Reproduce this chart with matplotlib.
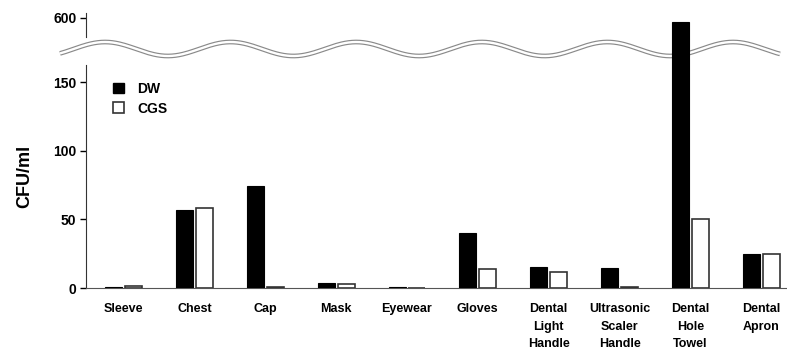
import matplotlib.pyplot as plt
import numpy as np
from matplotlib.lines import Line2D
from matplotlib.patches import Patch

categories = ['Sleeve', 'Chest', 'Cap', 'Mask', 'Eyewear', 'Gloves',
              'Dental\nLight\nHandle', 'Ultrasonic\nScaler\nHandle',
              'Dental\nHole\nTowel', 'Dental\nApron']
dw = [1, 57, 74, 3.5, 0.5, 40, 15.5, 14.5, 596, 25]
cgs = [1.5, 58, 0.4, 3, 0, 13.5, 11.5, 1, 50, 24.5]

plt.rcParams['font.family'] = ['Liberation Sans', 'DejaVu Sans']
plt.rcParams['font.weight'] = 'bold'

W, H = 787, 354
fig = plt.figure(figsize=(W / 100, H / 100), dpi=100)

left, right = 86 / W, 786 / W
ax = fig.add_axes([left, (H - 288) / H, right - left, (288 - 65) / H])
ax_top = fig.add_axes([left, (H - 65) / H, right - left, (65 - 13) / H])
for a in (ax, ax_top):
    a.patch.set_visible(False)

x = np.arange(len(categories))
bw = 0.24
off = 0.14
for a in (ax, ax_top):
    a.bar(x - off, dw, bw, color='black', edgecolor='black', linewidth=0.8, zorder=3)
    a.bar(x + off, cgs, bw, color='white', edgecolor='#333333', linewidth=1.2, zorder=3)
    a.set_xlim(-0.53, 9.35)

ax.set_ylim(0, 162.5)
ax.set_yticks([0, 50, 100, 150])
ax.set_xticks(x)
ax.set_xticklabels(categories, fontsize=9, fontweight='bold', linespacing=1.6, va='top')
ax.tick_params(axis='x', length=0, pad=11)
ax.tick_params(axis='y', length=4, width=1, labelsize=10, pad=3)
ax.spines['top'].set_visible(False)
ax.spines['right'].set_visible(False)
ax.spines['left'].set_color('#333333')
ax.spines['bottom'].set_color('#555555')
ax.set_ylabel('CFU/ml', fontsize=13, fontweight='bold', labelpad=14)

ax_top.set_ylim(550, 605)
ax_top.set_yticks([600])
ax_top.spines['left'].set_bounds(580, 605)
ax_top.spines['left'].set_color('#333333')
for s in ('top', 'right', 'bottom'):
    ax_top.spines[s].set_visible(False)
ax_top.set_xticks([])
ax_top.tick_params(axis='y', length=4, width=1, labelsize=10, pad=3)

# wavy break line
wx = np.linspace(60, 780, 400)
wy = 49 - 7 * np.cos(2 * np.pi * (wx - 105) / 125.6)
fig.add_artist(Line2D(wx / W, 1 - wy / H, transform=fig.transFigure,
                      color='#8a8a8a', lw=3.4, zorder=-2, solid_capstyle='butt'))
fig.add_artist(Line2D(wx / W, 1 - wy / H, transform=fig.transFigure,
                      color='white', lw=1.7, zorder=-1, solid_capstyle='butt'))

handles = [Patch(facecolor='black', edgecolor='black'),
           Patch(facecolor='white', edgecolor='#333333', linewidth=1.2)]
ax.legend(handles, ['DW', 'CGS'], loc='upper left', frameon=False,
          bbox_to_anchor=(0.02, 0.98), handlelength=0.8, handleheight=0.8,
          handletextpad=1.0, labelspacing=0.4, prop={'size': 10, 'weight': 'bold'})

fig.savefig('out.png', dpi=100)
